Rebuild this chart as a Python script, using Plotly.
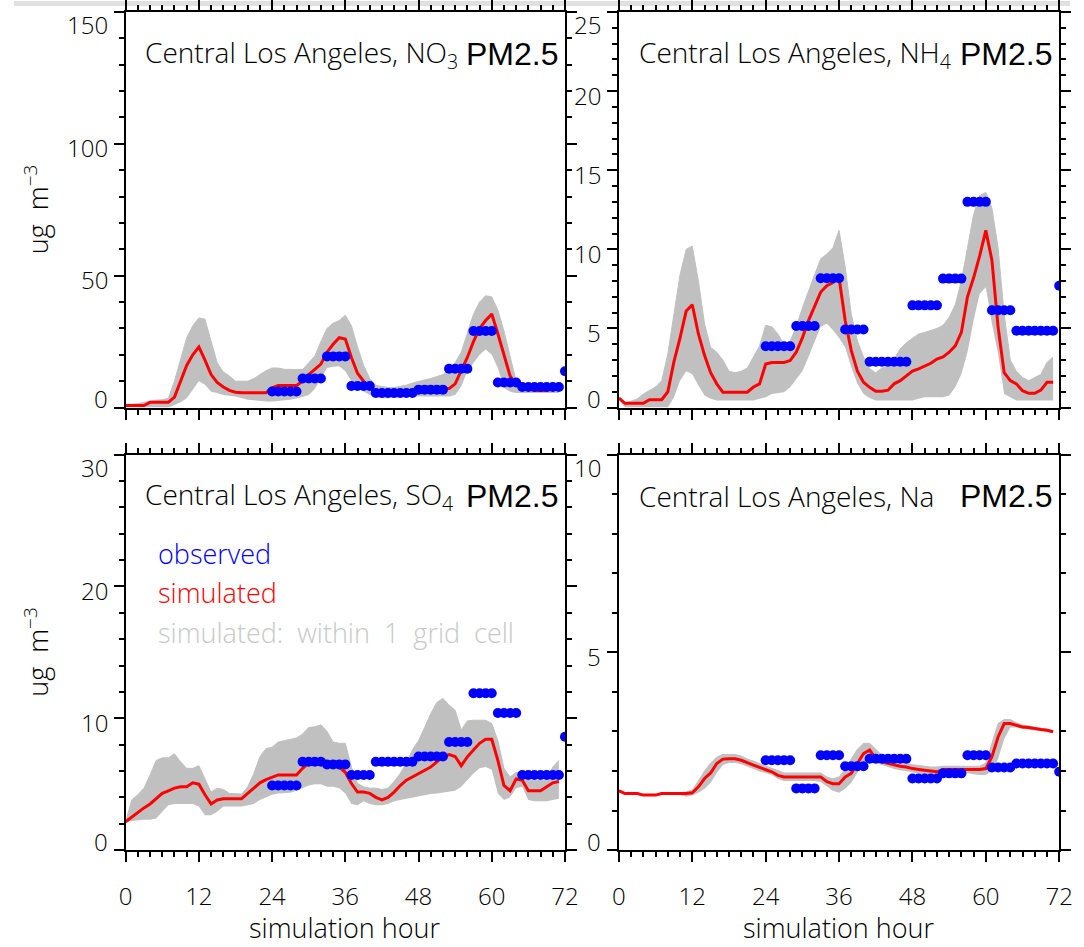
import plotly.graph_objects as go

W, H = 1084, 947

# Simulated output is hourly, hours 0-71
sim_hours = list(range(72))

# Observation sampling periods (first and last hour of each filter sample)
obs_start = [24, 29, 33, 37, 41, 48, 53, 57, 61, 65, 72]
obs_end = [28, 32, 36, 40, 47, 52, 56, 60, 64, 71, 72]

# ---- NO3 ----
no3_sim = [0.8, 0.8, 0.8, 0.8, 2, 2, 2, 2,
           4, 10, 16, 20, 23, 18, 12.5, 9.5,
           7.8, 6.5, 5.8, 5.6, 5.6, 5.6, 5.6, 5.6,
           7.5, 8.4, 8.4, 8.4, 8.4, 10, 12.5, 14.5,
           16.5, 21, 24, 26.5, 26, 19, 13, 10,
           7.5, 6, 5.7, 5.6, 5.6, 5.6, 5.8, 6,
           6.2, 6.4, 6.6, 6.8, 7, 7.2, 9, 14,
           19, 25, 30, 33, 35.5, 28, 20, 12,
           8.5, 7.5, 7, 6.5, 6.5, 6.5, 7, 7.3]
no3_hi = [1, 1.2, 1.5, 2, 2.5, 2.8, 3, 3.5,
          10, 18, 26.5, 31, 34, 33.5, 25, 17,
          13.5, 12, 10, 10, 10, 11, 12.5, 14,
          15, 15, 14.5, 14.5, 14.4, 14.4, 17, 19.5,
          25, 30, 32, 33, 35, 31, 23, 16,
          11, 8.4, 8, 7.6, 7.6, 8, 8.5, 9.3,
          10, 10.5, 11, 11.8, 12.5, 14.4, 17, 21,
          28, 35.4, 40, 42.4, 42, 37, 29, 19,
          10, 8.7, 8.7, 8.7, 8.7, 8.7, 8.7, 8.7]
no3_lo = [0, 0, 0, 0, 0, 0, 0, 0,
          1, 2, 3.5, 7, 10, 8.7, 6, 5.5,
          4.8, 4.5, 4.2, 3.6, 3, 2.8, 2.5, 2.3,
          2.3, 2.5, 2.8, 3, 3.5, 4, 4.8, 7,
          11, 15, 15.5, 15.7, 13.8, 10, 7.4, 6,
          4.8, 4, 3.5, 3.5, 3.6, 3.8, 4, 4.2,
          4.2, 4.2, 4.2, 4.2, 4.2, 4.2, 4.8, 8,
          13.8, 17, 20, 22, 20, 15, 7.4, 6,
          5.5, 5.5, 5.5, 5.5, 5.5, 5.5, 5.5, 5.5]
no3_obs = [6.1, 11.0, 19.4, 8.2, 5.5, 6.8, 14.7, 29.0, 9.5, 7.8, 13.8]

# ---- NH4 ----
nh4_sim = [0.6, 0.27, 0.27, 0.27, 0.27, 0.5, 0.5, 0.5,
           1.0, 2.9, 4.4, 6.1, 6.5, 4.65, 3.3, 2.2,
           1.5, 0.97, 0.97, 0.97, 0.97, 0.97, 1.3, 1.5,
           2.75, 2.85, 2.85, 2.85, 2.97, 3.5, 4.4, 5.5,
           6.4, 7.3, 7.7, 7.9, 8.2, 5.5, 3.6, 2.3,
           1.6, 1.28, 1.03, 1.03, 1.1, 1.5, 1.7, 2.0,
           2.3, 2.45, 2.65, 2.8, 3.07, 3.2, 3.5, 3.9,
           4.75, 7.0, 8.2, 9.6, 11.2, 9.3, 5.1, 2.2,
           1.7, 1.5, 1.07, 0.9, 0.9, 1.1, 1.6, 1.6]
nh4_hi = [0.7, 0.3, 0.4, 0.55, 0.86, 1.07, 1.3, 1.7,
          3.4, 5.9, 8.4, 10, 10.2, 8.0, 5.3, 3.8,
          3.5, 3.0, 2.3, 2.2, 2.3, 2.5, 3.2, 3.9,
          5.2, 5.1, 4.65, 4.0, 4.2, 5.1, 6.3, 7.4,
          8.4, 9.4, 9.7, 10.1, 11.2, 8.9, 5.9, 4.2,
          3.2, 2.45, 2.2, 2.5, 2.65, 3.07, 3.7, 4.1,
          4.4, 4.65, 4.75, 4.86, 5.0, 5.2, 5.7, 6.5,
          8.0, 10.1, 12.2, 13.4, 13.6, 12.6, 10.1, 5.9,
          3.0, 2.3, 1.9, 1.7, 1.9, 2.1, 2.85, 3.2]
nh4_lo = [0.5, 0, 0, 0, 0, 0, 0, 0,
          0, 0.65, 1.7, 2.3, 2.1, 1.4, 0.76, 0.55,
          0.44, 0.44, 0.44, 0.44, 0.44, 0.44, 0.44, 0.55,
          0.65, 0.86, 0.9, 0.97, 1.28, 1.8, 2.3, 3.2,
          4.2, 5.1, 5.3, 4.9, 4.4, 3.8, 2.55, 1.5,
          0.86, 0.6, 0.44, 0.44, 0.44, 0.44, 0.44, 0.44,
          0.44, 0.55, 0.65, 0.65, 0.65, 0.65, 0.76, 1.28,
          2.1, 3.5, 5.5, 7.2, 7.6, 5.3, 3.4, 0.86,
          0.65, 0.44, 0.44, 0.44, 0.44, 0.44, 0.44, 0.44]
nh4_obs = [3.87, 5.16, 8.17, 4.93, 2.9, 6.46, 8.15, 13.0, 6.15, 4.86, 7.7]

# ---- SO4 ----
so4_sim = [2.15, 2.5, 2.9, 3.2, 3.5, 3.9, 4.3, 4.5,
           4.7, 4.8, 4.8, 5.1, 5.0, 4.2, 3.5, 3.8,
           3.9, 3.9, 3.9, 3.9, 4.3, 4.7, 5.1, 5.35,
           5.5, 5.7, 5.7, 5.7, 5.7, 6.2, 6.6, 6.6,
           6.6, 6.6, 6.5, 6.3, 5.9, 5.05, 4.4, 4.4,
           4.3, 4.0, 3.8, 4.0, 4.4, 4.9, 5.3, 5.55,
           5.85, 6.06, 6.3, 6.7, 7.07, 7.25, 7.1, 6.4,
           7.07, 7.6, 8.1, 8.4, 8.4, 6.8, 4.9, 4.5,
           5.4, 5.3, 4.5, 4.5, 4.5, 4.8, 5.1, 5.2]
so4_hi = [2.15, 3.8, 4.2, 4.7, 5.7, 6.8, 7.0, 7.0,
          7.3, 6.7, 6.2, 6.2, 6.4, 5.4, 4.4, 4.7,
          4.6, 4.3, 4.25, 4.25, 4.8, 5.8, 7.07, 7.7,
          7.8, 8.2, 8.3, 8.4, 8.5, 8.8, 9.3, 9.35,
          9.5, 9.0, 8.2, 8.1, 8.1, 6.3, 5.05, 4.8,
          4.7, 4.7, 4.6, 4.7, 5.2, 5.8, 6.6, 7.6,
          8.3, 9.3, 10.35, 11.2, 11.5, 11.0, 10.6, 9.1,
          9.8, 9.85, 9.85, 9.85, 9.6, 8.3, 6.2, 5.55,
          5.9, 5.8, 5.3, 5.3, 5.3, 5.3, 6.3, 6.8]
so4_lo = [2.15, 2.2, 2.3, 2.3, 2.3, 2.4, 2.9, 3.4,
          3.5, 3.5, 3.5, 3.5, 3.3, 2.65, 2.65, 2.9,
          3.3, 3.3, 3.3, 3.3, 3.4, 3.5, 3.8, 4.0,
          4.2, 4.3, 4.35, 4.35, 4.5, 4.7, 4.9, 5.0,
          5.0, 4.8, 4.8, 4.7, 4.3, 3.5, 3.4, 3.7,
          3.5, 3.4, 3.4, 3.5, 3.7, 3.8, 3.9, 4.0,
          4.1, 4.2, 4.25, 4.3, 4.35, 4.4, 4.5, 4.8,
          5.3, 5.8, 6.2, 6.3, 6.1, 4.3, 3.8, 4.0,
          4.7, 4.8, 3.8, 3.7, 3.7, 3.7, 3.8, 3.9]
so4_obs = [4.9, 6.7, 6.5, 5.7, 6.7, 7.1, 8.2, 11.9, 10.4, 5.7, 8.6]

# ---- Na ----
na_sim = [1.5, 1.43, 1.43, 1.43, 1.39, 1.39, 1.39, 1.43,
          1.43, 1.43, 1.43, 1.43, 1.45, 1.6, 1.81, 1.95,
          2.19, 2.3, 2.31, 2.31, 2.27, 2.2, 2.15, 2.09,
          2.04, 1.98, 1.89, 1.85, 1.85, 1.85, 1.85, 1.85,
          1.85, 1.85, 1.73, 1.68, 1.68, 1.85, 1.94, 2.19,
          2.44, 2.53, 2.31, 2.23, 2.19, 2.15, 2.12, 2.1,
          2.06, 2.04, 2.02, 2.0, 1.98, 2.04, 2.04, 2.04,
          2.04, 2.04, 2.04, 2.04, 2.06, 2.36, 2.86, 3.2,
          3.2, 3.16, 3.11, 3.1, 3.07, 3.05, 3.03, 2.99]
na_hi = [1.52, 1.45, 1.45, 1.45, 1.41, 1.41, 1.41, 1.45,
         1.45, 1.45, 1.45, 1.47, 1.52, 1.75, 2.0, 2.2,
         2.35, 2.42, 2.42, 2.42, 2.38, 2.3, 2.25, 2.18,
         2.12, 2.07, 2.0, 1.95, 1.95, 1.95, 1.95, 1.95,
         1.95, 1.95, 1.85, 1.8, 1.85, 2.05, 2.3, 2.55,
         2.7, 2.7, 2.55, 2.4, 2.3, 2.26, 2.22, 2.2,
         2.16, 2.14, 2.12, 2.1, 2.1, 2.12, 2.12, 2.12,
         2.12, 2.12, 2.12, 2.12, 2.2, 2.7, 3.2, 3.3,
         3.3, 3.22, 3.16, 3.14, 3.1, 3.08, 3.06, 3.02]
na_lo = [1.48, 1.41, 1.41, 1.41, 1.37, 1.37, 1.37, 1.41,
         1.41, 1.41, 1.39, 1.35, 1.38, 1.45, 1.55, 1.7,
         1.95, 2.15, 2.2, 2.2, 2.17, 2.1, 2.05, 1.99,
         1.95, 1.9, 1.8, 1.75, 1.75, 1.75, 1.75, 1.75,
         1.75, 1.72, 1.6, 1.5, 1.45, 1.55, 1.7, 1.95,
         2.2, 2.4, 2.2, 2.15, 2.1, 2.05, 2.02, 2.0,
         1.96, 1.94, 1.92, 1.9, 1.88, 1.94, 1.94, 1.94,
         1.94, 1.94, 1.92, 1.9, 1.9, 2.0, 2.3, 2.8,
         3.1, 3.1, 3.06, 3.05, 3.03, 3.01, 3.0, 2.96]
na_obs = [2.27, 1.56, 2.4, 2.12, 2.31, 1.81, 1.94, 2.4, 2.09, 2.19, 1.98]

x_ticks = [0, 12, 24, 36, 48, 60, 72]

SITE = "Central Los Angeles, "
THIN = "Open Sans, DejaVu Sans"
THIN_W = 300
ARIAL = "Liberation Sans, Arial"
BAND = "#c0c0c0"


def thin_font(size, color="black"):
    return dict(family=THIN, size=size, color=color, weight=THIN_W)


def expand_obs(values):
    """Repeat each sample value over every hour of its sampling period."""
    xs, ys = [], []
    for s, e, v in zip(obs_start, obs_end, values):
        for h in range(s, e + 1):
            xs.append(h)
            ys.append(v)
    return xs, ys


# panel box in pixels: (left, right, top, bottom)
panels = [
    dict(label="NO<sub>3</sub>", sim=no3_sim, lo=no3_lo, hi=no3_hi, obs=no3_obs,
         ymax=150, major=50, minor=10, box=(121, 569, 11, 407), bottom=False, left=True),
    dict(label="NH<sub>4</sub>", sim=nh4_sim, lo=nh4_lo, hi=nh4_hi, obs=nh4_obs,
         ymax=25, major=5, minor=1, box=(624, 1073, 11, 407), bottom=False, left=False),
    dict(label="SO<sub>4</sub>", sim=so4_sim, lo=so4_lo, hi=so4_hi, obs=so4_obs,
         ymax=30, major=10, minor=2, box=(121, 569, 454, 850), bottom=True, left=True),
    dict(label="Na", sim=na_sim, lo=na_lo, hi=na_hi, obs=na_obs,
         ymax=10, major=5, minor=1, box=(624, 1073, 454, 850), bottom=True, left=False),
]


def px(x):
    return x / W


def py(y):
    return 1 - y / H


fig = go.Figure()
annotations = []

for i, p in enumerate(panels, start=1):
    xa = "x" if i == 1 else f"x{i}"
    ya = "y" if i == 1 else f"y{i}"
    l, r, t, b = p["box"]

    # spread of simulated values within one grid cell
    fig.add_trace(go.Scatter(x=sim_hours, y=p["lo"], mode="lines",
                             line=dict(width=0, color=BAND), hoverinfo="skip",
                             xaxis=xa, yaxis=ya, showlegend=False))
    fig.add_trace(go.Scatter(x=sim_hours, y=p["hi"], mode="lines", fill="tonexty",
                             fillcolor=BAND, line=dict(width=1, color=BAND),
                             xaxis=xa, yaxis=ya, showlegend=False))
    # simulated
    fig.add_trace(go.Scatter(x=sim_hours, y=p["sim"], mode="lines",
                             line=dict(width=3, color="#ff0000"),
                             xaxis=xa, yaxis=ya, showlegend=False))
    # observed
    ox, oy = expand_obs(p["obs"])
    fig.add_trace(go.Scatter(x=ox, y=oy, mode="markers",
                             marker=dict(size=10, color="#0000ff", symbol="circle",
                                         line=dict(width=0)),
                             xaxis=xa, yaxis=ya, showlegend=False))

    axis_common = dict(showline=True, linewidth=2, linecolor="black",
                       mirror="allticks", ticks="outside", tickwidth=1.5,
                       tickcolor="black", ticklen=10, showgrid=False,
                       zeroline=False)
    fig.update_layout(**{
        ("xaxis" if i == 1 else f"xaxis{i}"): dict(
            axis_common, domain=[px(l), px(r)], range=[0, 72], tickvals=x_ticks,
            anchor=ya, showticklabels=p["bottom"],
            tickfont=thin_font(24),
            ticklabelstandoff=14,
            minor=dict(dtick=2, tick0=0, ticks="outside", ticklen=5,
                       tickwidth=1.5, tickcolor="black")),
        ("yaxis" if i == 1 else f"yaxis{i}"): dict(
            axis_common, domain=[py(b), py(t)], range=[0, p["ymax"]],
            dtick=p["major"], tick0=0, anchor=xa, showticklabels=False,
            minor=dict(dtick=p["minor"], tick0=0, ticks="outside", ticklen=5,
                       tickwidth=1.5, tickcolor="black")),
    })

    # y tick labels
    yvals = list(range(0, p["ymax"] + 1, p["major"]))
    for k, v in enumerate(yvals):
        shift = -4
        if k == 0:
            shift = 9
        elif k == len(yvals) - 1:
            shift = -13
        annotations.append(dict(text=str(v), xref="paper", yref=ya, x=px(l - 16),
                                y=v, xanchor="right", yanchor="middle", yshift=shift,
                                showarrow=False, font=thin_font(24)))

    # panel title
    annotations.append(dict(text=SITE + p["label"], xref="paper", yref="paper",
                            x=px(l + 18), y=py(t + 42), xanchor="left",
                            yanchor="middle", showarrow=False, font=thin_font(28)))
    annotations.append(dict(text="PM2.5", xref="paper", yref="paper",
                            x=px(r - 5), y=py(t + 42), xanchor="right",
                            yanchor="middle", showarrow=False,
                            font=dict(family=ARIAL, size=32, color="black")))

    if p["left"]:
        annotations.append(dict(text="ug  m<sup>\u22123</sup>", xref="paper",
                                yref="paper", x=px(30), y=py((t + b) / 2),
                                xanchor="center", yanchor="middle", textangle=-90,
                                showarrow=False, font=thin_font(27)))
    if p["bottom"]:
        annotations.append(dict(text="simulation hour", xref="paper", yref="paper",
                                x=px((l + r) / 2), y=py(927), xanchor="center",
                                yanchor="middle", showarrow=False,
                                font=thin_font(27)))

# key, in the SO4 panel
for text, color, yc in [("observed", "#0000ff", 553),
                        ("simulated", "#ff0000", 592),
                        ("simulated:  within  1  grid  cell", "#c8c8c8", 632)]:
    annotations.append(dict(text=text, xref="paper", yref="paper", x=px(152),
                            y=py(yc), xanchor="left", yanchor="middle",
                            showarrow=False, font=thin_font(27, color)))

fig.update_layout(
    width=W, height=H,
    margin=dict(l=0, r=0, t=0, b=0),
    paper_bgcolor="white", plot_bgcolor="white",
    showlegend=False,
    annotations=annotations,
    shapes=[dict(type="rect", xref="paper", yref="paper", x0=px(7), x1=1,
                 y0=py(5), y1=1, fillcolor="#e0e0e0", line=dict(width=0),
                 layer="below")],
)

fig.write_html("out.html")
